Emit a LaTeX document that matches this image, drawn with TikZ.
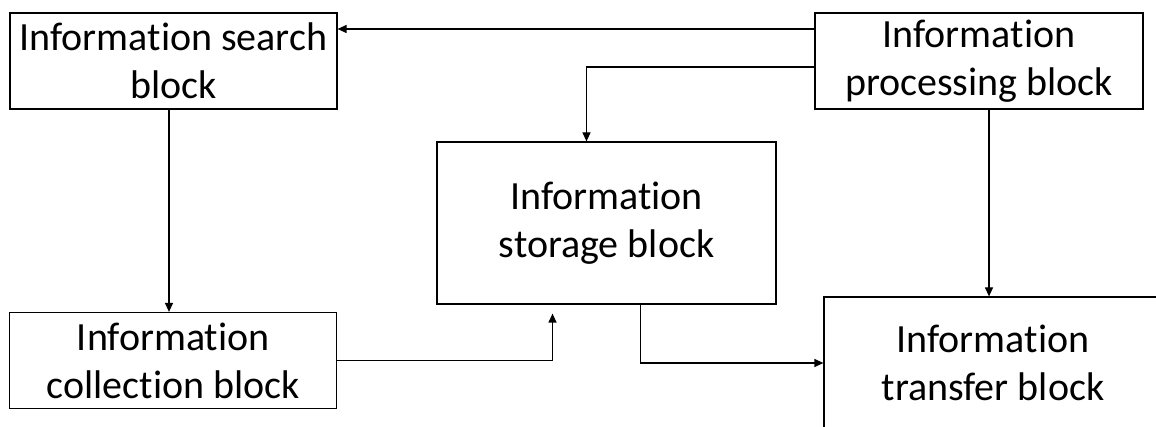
\documentclass[tikz,border=0pt]{standalone}
\usepackage{fontspec}
\setmainfont{Carlito}[Ligatures=NoCommon]
\usetikzlibrary{arrows.meta, positioning}

\begin{document}
\begin{tikzpicture}[x=1pt,y=-1pt]
        \clip (0,0) rectangle (1156,427);
        \begin{scope}[every node/.style={draw,line width=1.2pt,align=center,inner sep=0pt,
            font=\fontsize{40pt}{48pt}\selectfont}]
          \node[minimum width=327pt,minimum height=96pt] (search) at (173.5,61) {Information search\\block};
          \node[minimum width=328pt,minimum height=96pt] (proc) at (979,61) {Information\\processing block};
          \node[minimum width=339pt,minimum height=162pt] (store) at (606.5,223) {Information\\storage block};
          \node[minimum width=327pt,minimum height=96pt] (collect) at (173.3,360.5) {Information\\collection block};
          \node[minimum width=338pt,minimum height=132pt] (transfer) at (993,363) {Information\\transfer block};
        \end{scope}
        \begin{scope}[every path/.style={draw=black,line width=1.2pt,-{Triangle[length=9pt,width=8pt]}}]
          \draw (proc.west |- 0,29) -- (search.east |- 0,29);
          \draw (proc.west |- 0,67) -| ([xshift=-20pt]store.north);
          \draw ([xshift=-4.5pt]search.south) -- ([xshift=-4.5pt]search.south |- collect.north);
          \draw[shorten >=9pt] (collect.east) -| ([xshift=-54pt]store.south);
          \draw ([xshift=34pt]store.south) |- (transfer.west);
          \draw ([xshift=10pt]proc.south) -- ([xshift=10pt]proc.south |- transfer.north);
        \end{scope}
      \end{tikzpicture}
\end{document}
